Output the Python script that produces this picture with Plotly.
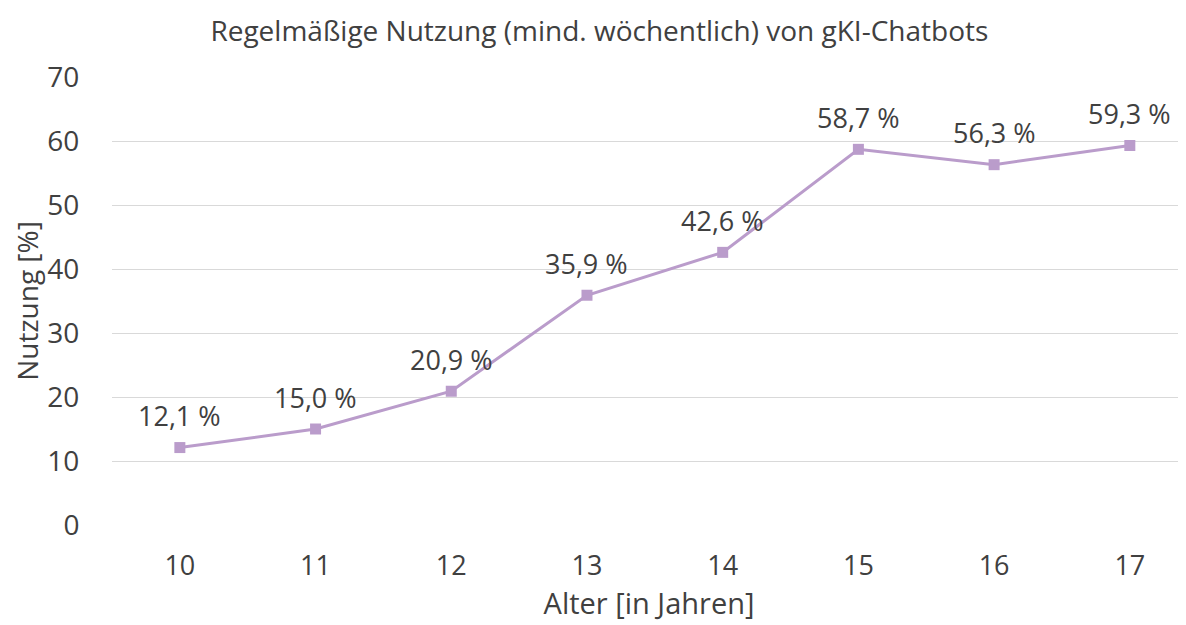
import plotly.graph_objects as go

ages = ["10", "11", "12", "13", "14", "15", "16", "17"]
usage = [12.1, 15.0, 20.9, 35.9, 42.6, 58.7, 56.3, 59.3]
labels = ["12,1 %", "15,0 %", "20,9 %", "35,9 %", "42,6 %", "58,7 %", "56,3 %", "59,3 %"]

FONT = "Open Sans"
TXT = "#404040"
LINE = "#BA9CCB"

fig = go.Figure()
fig.add_trace(go.Scatter(
    x=list(range(len(ages))), y=usage, mode="lines+markers",
    line=dict(color=LINE, width=3),
    marker=dict(symbol="square", size=11, color=LINE),
    hoverinfo="skip", showlegend=False,
))
for i, (v, t) in enumerate(zip(usage, labels)):
    fig.add_annotation(x=i, y=v, text=t, showarrow=False, yshift=32,
                       font=dict(family=FONT, size=27, color=TXT))

fig.update_layout(
    width=1178, height=617,
    margin=dict(l=104, r=0, t=69, b=100),
    paper_bgcolor="white", plot_bgcolor="white",
    title=dict(text="Regelmäßige Nutzung (mind. wöchentlich) von gKI-Chatbots",
               x=0.502, xanchor="center", y=0.963, yanchor="middle",
               font=dict(family=FONT, size=28, color=TXT)),
    font=dict(family=FONT, color=TXT),
)
fig.update_xaxes(
    tickmode="array", tickvals=list(range(len(ages))), ticktext=ages,
    range=[-0.5, 7.414], showgrid=False, zeroline=False, showline=False,
    ticks="outside", ticklen=17, tickcolor="rgba(0,0,0,0)",
    tickfont=dict(family=FONT, size=27, color=TXT),
    title=dict(text="Alter [in Jahren]", font=dict(family=FONT, size=29, color=TXT), standoff=6),
)
fig.update_yaxes(
    range=[0, 70], dtick=10, showgrid=True, gridcolor="#D9D9D9", gridwidth=1.3,
    zeroline=False, showline=False,
    ticks="outside", ticklen=26, tickcolor="rgba(0,0,0,0)",
    tickfont=dict(family=FONT, size=28, color=TXT),
    title=dict(text="Nutzung [%]", font=dict(family=FONT, size=28, color=TXT), standoff=6),
)

fig.write_html("out.html")
